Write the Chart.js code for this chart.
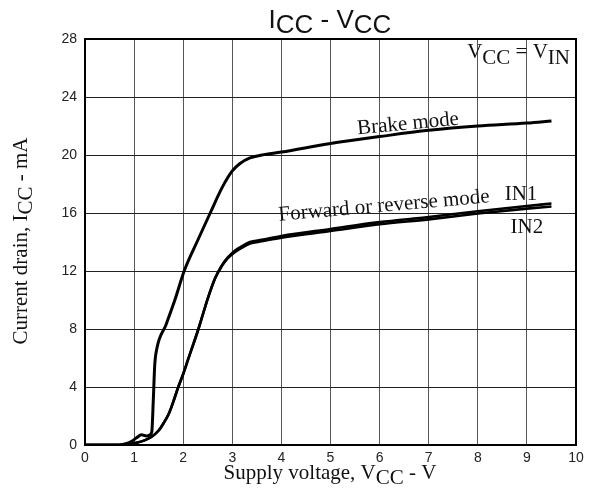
<!DOCTYPE html>
<html>
<head>
<meta charset="utf-8">
<script src="https://cdn.jsdelivr.net/npm/chart.js@4.4.1/dist/chart.umd.min.js"></script>
<style>
  html, body { margin: 0; padding: 0; background: #fff; }
  #wrap { width: 601px; height: 501px; position: relative; }
</style>
</head>
<body>
<div id="wrap"><canvas id="c" width="601" height="501"></canvas></div>
<script>
// ---------- data ----------
const xTickValues = [0, 1, 2, 3, 4, 5, 6, 7, 8, 9, 10];
const yTickValues = [0, 4, 8, 12, 16, 20, 24, 28];

const brakeX = [0, 0.7, 0.85, 0.95, 1.05, 1.15, 1.25, 1.32, 1.36, 1.39, 1.42, 1.46, 1.65, 1.83, 2.02, 2.28, 2.55, 2.8, 3.0, 3.15, 3.36, 3.6, 4, 5, 6, 7, 8, 9, 9.5];
const brakeY = [0, 0, 0.1, 0.25, 0.5, 0.7, 0.62, 0.7, 0.9, 3.0, 5.5, 6.6, 8.3, 10, 12, 14, 16, 17.8, 18.9, 19.4, 19.8, 20.0, 20.2, 20.8, 21.27, 21.7, 22.0, 22.2, 22.35];

const fwdX = [0, 0.7, 0.9, 1.05, 1.2, 1.35, 1.5, 1.6, 1.7, 1.8, 1.9, 2.0, 2.1, 2.31, 2.5, 2.65, 2.78, 2.9, 3.05, 3.2, 3.36, 3.6, 4, 5, 6, 7, 8, 9, 9.5];
const in1Y = [0, 0, 0.05, 0.15, 0.3, 0.55, 1.0, 1.5, 2.1, 3.0, 4.0, 4.9, 5.9, 8, 10.1, 11.5, 12.35, 12.9, 13.4, 13.72, 14.0, 14.15, 14.42, 14.9, 15.37, 15.72, 16.12, 16.48, 16.65];
const in2Y = [0, 0, 0.05, 0.15, 0.3, 0.55, 1.0, 1.5, 2.1, 3.0, 4.0, 4.9, 5.9, 8, 10.1, 11.5, 12.3, 12.85, 13.3, 13.62, 13.9, 14.05, 14.3, 14.76, 15.22, 15.56, 15.96, 16.3, 16.45];

const titleParts = [{t: 'I'}, {t: 'CC', sub: true}, {t: ' - V'}, {t: 'CC', sub: true}];
const xTitleParts = [{t: 'Supply voltage, V'}, {t: 'CC', sub: true}, {t: ' - V'}];
const yTitleParts = [{t: 'Current drain, I'}, {t: 'CC', sub: true}, {t: ' - mA'}];
const condParts = [{t: 'V'}, {t: 'CC', sub: true}, {t: ' = V'}, {t: 'IN', sub: true}];
const curveLabels = [
  {text: 'Brake mode', x: 6.58, y: 22.14, angle: -5.5},
  {text: 'Forward or reverse mode', x: 6.09, y: 16.48, angle: -5},
  {text: 'IN1', x: 8.88, y: 17.31, angle: 0},
  {text: 'IN2', x: 9.0, y: 15.03, angle: 0}
];

const toPts = (xs, ys) => xs.map((x, i) => ({x: x, y: ys[i]}));

const SANS = '"Liberation Sans", Arial, sans-serif';
const SERIF = '"Liberation Serif", "Times New Roman", serif';

function drawRich(ctx, parts, x, y, size, family, align, subDrop) {
  ctx.font = size + 'px ' + family;
  let w = 0;
  parts.forEach(p => { w += ctx.measureText(p.t).width; });
  let cx = align === 'center' ? x - w / 2 : (align === 'right' ? x - w : x);
  ctx.textAlign = 'left';
  ctx.textBaseline = 'alphabetic';
  parts.forEach(p => {
    ctx.fillText(p.t, cx, y + (p.sub ? subDrop : 0));
    cx += ctx.measureText(p.t).width;
  });
}

const decor = {
  id: 'decor',
  afterDraw(chart) {
    const ctx = chart.ctx;
    const a = chart.chartArea;
    const xs = chart.scales.x, ys = chart.scales.y;
    ctx.save();
    // frame
    ctx.strokeStyle = '#000';
    ctx.lineWidth = 2;
    ctx.strokeRect(a.left, a.top, a.right - a.left, a.bottom - a.top);
    ctx.fillStyle = '#111';
    // title
    drawRich(ctx, titleParts, 330, 28, 26, SANS, 'center', 5);
    // axis titles
    drawRich(ctx, xTitleParts, 330, 479, 21, SERIF, 'center', 5);
    ctx.save();
    ctx.translate(27, 241);
    ctx.rotate(-Math.PI / 2);
    drawRich(ctx, yTitleParts, 0, 0, 21, SERIF, 'center', 5);
    ctx.restore();
    // condition
    drawRich(ctx, condParts, 570, 58, 21, SERIF, 'right', 6);
    // curve labels
    ctx.font = '21px ' + SERIF;
    curveLabels.forEach(l => {
      ctx.save();
      ctx.translate(xs.getPixelForValue(l.x), ys.getPixelForValue(l.y));
      ctx.rotate(l.angle * Math.PI / 180);
      ctx.textAlign = 'center';
      ctx.textBaseline = 'middle';
      ctx.fillText(l.text, 0, 0);
      ctx.restore();
    });
    ctx.restore();
  }
};

new Chart(document.getElementById('c'), {
  type: 'scatter',
  data: {
    datasets: [
      {label: 'Brake mode', data: toPts(brakeX, brakeY), borderColor: '#000', borderWidth: 3},
      {label: 'IN1', data: toPts(fwdX, in1Y), borderColor: '#000', borderWidth: 2.6},
      {label: 'IN2', data: toPts(fwdX, in2Y), borderColor: '#000', borderWidth: 2.6}
    ].map(d => Object.assign(d, {showLine: true, pointRadius: 0, fill: false, cubicInterpolationMode: 'monotone'}))
  },
  options: {
    responsive: false,
    animation: false,
    devicePixelRatio: 1,
    layout: {padding: {top: 39, right: 25, left: 0, bottom: 0}},
    plugins: {legend: {display: false}, tooltip: {enabled: false}, title: {display: false}},
    scales: {
      x: {
        type: 'linear', min: 0, max: 10,
        afterBuildTicks: s => { s.ticks = xTickValues.map(v => ({value: v})); },
        afterFit: s => { s.height = 56; },
        grid: {color: '#555', lineWidth: 1, drawTicks: false},
        border: {color: '#000', width: 2},
        ticks: {padding: 5, color: '#222', font: {family: SANS, size: 14}}
      },
      y: {
        type: 'linear', min: 0, max: 28,
        afterBuildTicks: s => { s.ticks = yTickValues.map(v => ({value: v})); },
        afterFit: s => { s.width = 85; },
        grid: {color: '#222', lineWidth: 1, drawTicks: false},
        border: {color: '#000', width: 2},
        ticks: {padding: 8, color: '#222', font: {family: SANS, size: 14}}
      }
    }
  },
  plugins: [decor]
});
</script>
</body>
</html>
